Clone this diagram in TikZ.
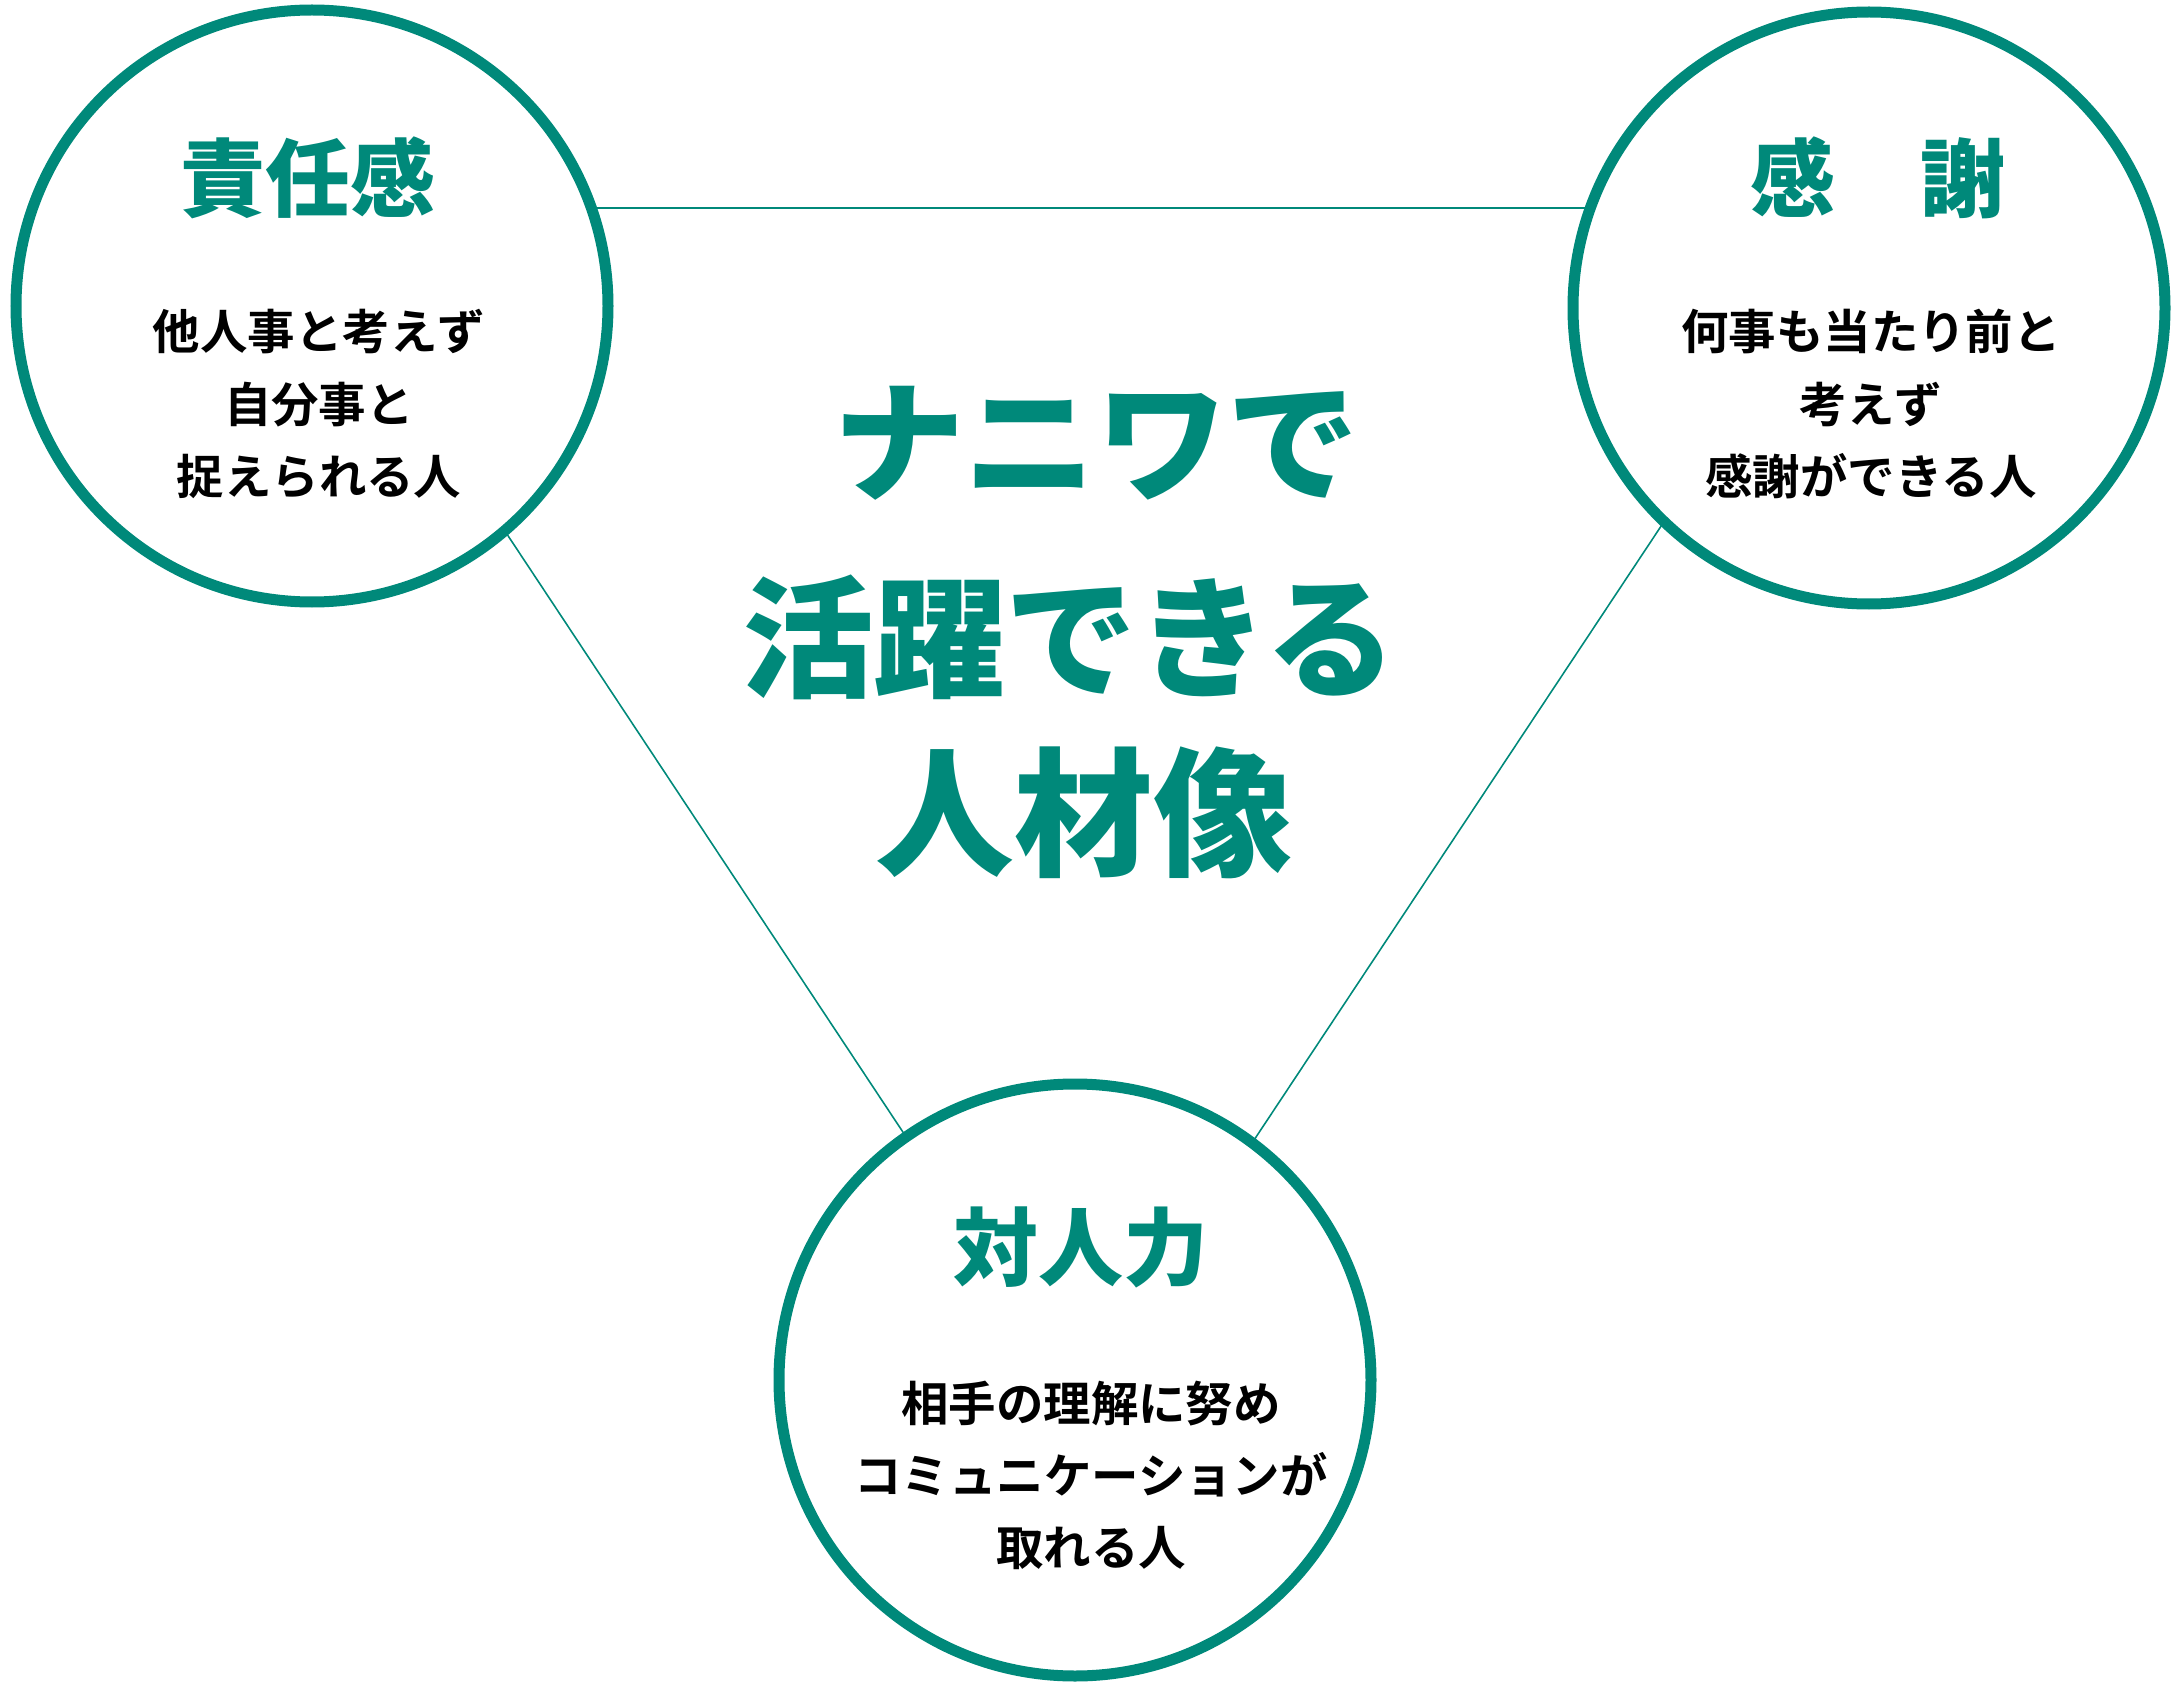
\documentclass[tikz,border=0pt]{standalone}
\usepackage{fontspec}
\newfontfamily\jp{Noto Sans CJK JP Bold}
\newfontfamily\jpheavy{Noto Sans CJK JP Black}
\usetikzlibrary{positioning}
\definecolor{naniwa}{RGB}{0,137,122}

\tikzset{
 ring/.style={circle,draw=naniwa,line width=0.11cm,fill=white,minimum size=5.92cm,inner sep=0pt},
 edge/.style={draw=naniwa,line width=0.45pt},
 title/.style={text=naniwa,font=\jpheavy\fontsize{24.2}{30}\selectfont,inner sep=0pt},
 body/.style={align=center,font=\jp\fontsize{13.5}{20.5}\selectfont,inner sep=0pt},
 centre/.style={text=naniwa,font=\jpheavy\fontsize{37.4}{40}\selectfont,inner sep=0pt}
}

\begin{document}
\begin{tikzpicture}
 \def\cL{3.12,-3.06}  % circulo izq
 \def\cR{18.69,-3.08} % circulo der
 \def\cB{10.75,-13.80} % circulo abajo
 \useasboundingbox (0,0) rectangle (21.84,-16.86);
 % triangulo de fondo
 \coordinate (tL) at (2.91,-2.08);
 \coordinate (tR) at (18.72,-2.08);
 \coordinate (tB) at (10.81,-14.01);
 \draw[edge] (tL) -- (tR) -- (tB) -- cycle;
 % circulos
 \node[ring] (resp) at (\cL) {};
 \node[ring] (thanks) at (\cR) {};
 \node[ring] (social) at (\cB) {};
 \node[title] (respT) at (3.08,-1.78) {責任感};
 \node[title] (thanksT) at (18.78,-1.78) {感　謝};
 \node[title] (socialT) at (10.81,-12.47) {対人力};
 \node[body] (respB) at (3.19,-4.04) {他人事と考えず\\自分事と\\捉えられる人};
 \node[body] (thanksB) at (18.71,-4.04) {何事も当たり前と\\考えず\\感謝ができる人};
 \node[body] (socialB) at (10.91,-14.75) {相手の理解に努め\\コミュニケーションが\\取れる人};
 % centro
 \node[centre] (ideal1) at (10.96,-4.43) {ナニワで};
 \node[centre] (ideal2) at (10.70,-6.37) {活躍できる};
 \node[centre,font=\jpheavy\fontsize{39.5}{40}\selectfont] (ideal3) at (10.84,-8.13) {人材像};
\end{tikzpicture}
\end{document}
